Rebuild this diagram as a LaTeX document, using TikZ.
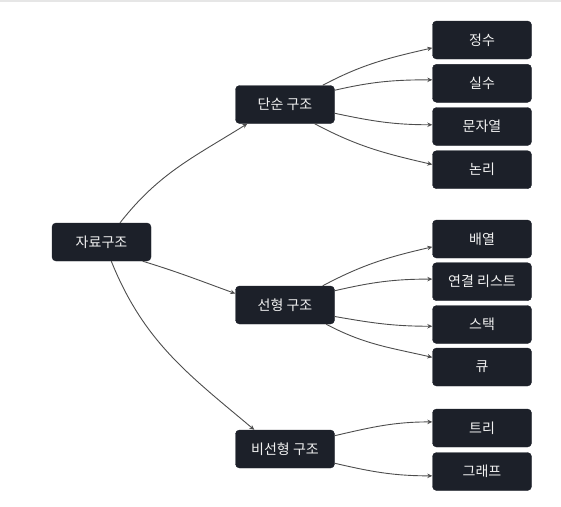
\documentclass[tikz,border=0pt]{standalone}
\usepackage{fontspec}
\newfontfamily\kr{Noto Sans CJK KR}
\usetikzlibrary{arrows.meta}
\definecolor{boxfill}{HTML}{1C2029}
\definecolor{edgecol}{HTML}{4D4D4D}
\definecolor{toplinecol}{HTML}{E6E6E6}
\definecolor{boxtext}{HTML}{F2F2F2}
\begin{document}
\begin{tikzpicture}[x=1pt,y=1pt,
  box/.style={draw=boxfill, fill=boxfill, rounded corners=4pt, minimum width=99pt,
    minimum height=38pt, text=boxtext, font=\kr\fontsize{14}{16}\selectfont, inner sep=0pt},
  edge/.style={draw=edgecol, line width=0.9pt, -{Stealth[length=5pt,width=4.5pt]}}]
\useasboundingbox (0,0) rectangle (561,-506);
\draw[toplinecol, line width=1.5pt] (0,-1) -- (561,-1);
% nodes
\node[box] (root) at (101.5,-242) {자료구조};
\node[box] (s) at (285,-104.5) {단순 구조};
\node[box] (l) at (285,-305) {선형 구조};
\node[box] (n) at (285,-449) {비선형 구조};
\node[box] (c1) at (482,-40) {정수};
\node[box] (c2) at (482,-83.3) {실수};
\node[box] (c3) at (482,-126.5) {문자열};
\node[box] (c4) at (482,-169.7) {논리};
\node[box] (l1) at (482,-239) {배열};
\node[box] (l2) at (482,-281.7) {연결 리스트};
\node[box] (l3) at (482,-324.5) {스택};
\node[box] (l4) at (482,-367) {큐};
\node[box] (n1) at (482,-428) {트리};
\node[box] (n2) at (482,-471.5) {그래프};
% edges
\draw[edge] (root.46) to[out=52,in=212] (s.207);
\draw[edge] (root.-25) to[out=-17,in=160] (l.167);
\draw[edge] (root.-63) to[out=-68,in=140] (n.148);
\draw[edge] (s.27) to[out=28,in=193] (c1.189);
\draw[edge] (s.16) to[out=13,in=180] (c2.176);
\draw[edge] (s.-10) to[out=-12,in=180] (c3.178);
\draw[edge] (s.-33) to[out=-28,in=167] (c4.174);
\draw[edge] (l.27) to[out=28,in=193] (l1.189);
\draw[edge] (l.16) to[out=13,in=180] (l2.177);
\draw[edge] (l.-13) to[out=-10,in=180] (l3.182);
\draw[edge] (l.-25) to[out=-28,in=167] (l4.169);
\draw[edge] (n.15) to[out=13,in=180] (n1.173);
\draw[edge] (n.-16) to[out=-13,in=180] (n2.185);
\end{tikzpicture}
\end{document}
